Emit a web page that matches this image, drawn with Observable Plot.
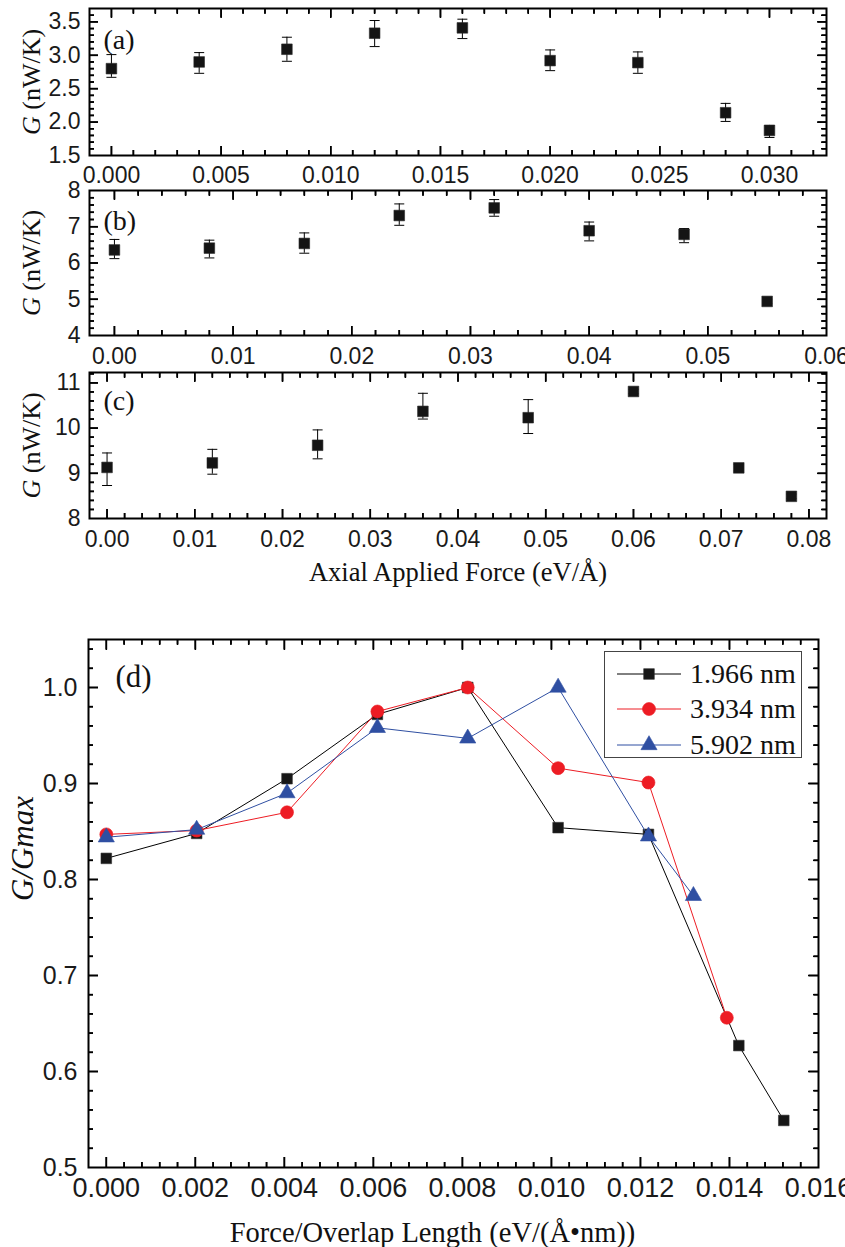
<!DOCTYPE html>
<html>
<head>
<meta charset="utf-8">
<script src="https://cdn.jsdelivr.net/npm/d3@7"></script>
<script src="https://cdn.jsdelivr.net/npm/@observablehq/plot@0.6"></script>
<style>
  html, body { margin: 0; padding: 0; background: #fff; }
  #wrap { position: relative; width: 845px; height: 1247px; overflow: hidden; background: #fff; }
  .panel { position: absolute; left: 0; }
  .panel svg { overflow: visible; background: transparent; }
  #legend { position: absolute; left: 604px; top: 651px; width: 198px; height: 107px;
            border: 1.5px solid #444; box-sizing: border-box; background: #fff; }
  #legend .row { position: absolute; left: 0; height: 30px; width: 196px; }
  #legend .row svg { position: absolute; left: 0; top: 0; }
  #legend .row span { position: absolute; left: 85px; top: 50%; transform: translateY(-50%);
            font-family: 'Liberation Serif', 'Times New Roman', Times, serif; font-size: 28px; color: #111; line-height: 1; white-space: nowrap; }
</style>
</head>
<body>
<div id="wrap"></div>
<script>
// ---------------- Data ----------------
// Panel (a)
const forceA = [0, 0.004, 0.008, 0.012, 0.016, 0.020, 0.024, 0.028, 0.030];
const condA = [2.80, 2.90, 3.09, 3.33, 3.41, 2.92, 2.89, 2.14, 1.875];
const condALow = [2.67, 2.73, 2.91, 3.13, 3.25, 2.77, 2.73, 2.01, 1.77];
const condAHigh = [3.01, 3.04, 3.27, 3.52, 3.54, 3.08, 3.05, 2.28, 1.95];
const xTicksA = [0, 0.005, 0.010, 0.015, 0.020, 0.025, 0.030];
const yTicksA = [1.5, 2.0, 2.5, 3.0, 3.5];

// Panel (b)
const forceB = [0, 0.008, 0.016, 0.024, 0.032, 0.040, 0.048, 0.055];
const condB = [6.36, 6.41, 6.54, 7.31, 7.52, 6.89, 6.79, 4.94];
const condBLow = [6.12, 6.14, 6.27, 7.04, 7.29, 6.61, 6.56, 4.88];
const condBHigh = [6.65, 6.63, 6.83, 7.63, 7.75, 7.13, 6.95, 5.00];
const xTicksB = [0, 0.01, 0.02, 0.03, 0.04, 0.05, 0.06];
const yTicksB = [4, 5, 6, 7, 8];

// Panel (c)
const forceC = [0, 0.012, 0.024, 0.036, 0.048, 0.060, 0.072, 0.078];
const condC = [9.13, 9.23, 9.62, 10.37, 10.23, 10.81, 9.12, 8.49];
const condCLow = [8.73, 8.98, 9.32, 10.20, 9.88, 10.76, 9.05, 8.44];
const condCHigh = [9.45, 9.53, 9.96, 10.77, 10.63, 10.86, 9.20, 8.54];
const xTicksC = [0, 0.01, 0.02, 0.03, 0.04, 0.05, 0.06, 0.07, 0.08];
const yTicksC = [8, 9, 10, 11];

// Panel (d)
const seriesNames = ["1.966 nm", "3.934 nm", "5.902 nm"];
const seriesColors = ["#000000", "#ed1c24", "#2f4fa2"];
const seriesFills = ["#161616", "#ed1c24", "#2f4fa2"];
const seriesSymbols = ["square", "circle", "triangle"];
const xD1 = [0, 0.00203, 0.00406, 0.00609, 0.00812, 0.01015, 0.01218, 0.01421, 0.01522];
const yD1 = [0.822, 0.848, 0.905, 0.972, 1.000, 0.854, 0.847, 0.627, 0.549];
const xD2 = [0, 0.00203, 0.00406, 0.00609, 0.00812, 0.01015, 0.01218, 0.01394];
const yD2 = [0.847, 0.851, 0.870, 0.975, 1.000, 0.916, 0.901, 0.656];
const xD3 = [0, 0.00203, 0.00406, 0.00609, 0.00812, 0.01015, 0.01218, 0.01319];
const yD3 = [0.844, 0.852, 0.890, 0.958, 0.947, 1.000, 0.845, 0.783];
const xTicksD = [0, 0.002, 0.004, 0.006, 0.008, 0.010, 0.012, 0.014, 0.016];
const yTicksD = [0.5, 0.6, 0.7, 0.8, 0.9, 1.0];

// ---------------- Helpers ----------------
const SERIF = "'Liberation Serif','Times New Roman',Times,serif";
const SANS = "'Liberation Sans',Arial,Helvetica,sans-serif";
const NARROW = "'Liberation Sans Narrow','Arial Narrow'," + SANS;
const WIDTH = 845;

function minorTicks(domain, step, majors) {
  const out = [];
  const start = Math.ceil(domain[0] / step - 1e-6);
  const end = Math.floor(domain[1] / step + 1e-6);
  for (let k = start; k <= end; k++) {
    const v = k * step;
    if (v <= domain[0] + step * 0.05 || v >= domain[1] - step * 0.05) continue;
    if (majors.some(m => Math.abs(m - v) < step * 0.05)) continue;
    out.push(v);
  }
  return out;
}

// Frame, tick labels, and inward ticks on all four sides.
// Ticks are rules whose far end is the tick length (px) converted to data units of the scale.
function boxAxes(o, innerW, innerH) {
  const none = () => "";
  const xMinor = minorTicks(o.xDomain, o.xStep, o.xMajor);
  const yMinor = minorTicks(o.yDomain, o.yStep, o.yMajor);
  const yMajorIn = o.yMajor.filter(v => v > o.yDomain[0] + 1e-9 && v < o.yDomain[1] - 1e-9);
  const xMajorIn = o.xMajor.filter(v => v > o.xDomain[0] + 1e-9 && v < o.xDomain[1] - 1e-9);
  const kx = (o.xDomain[1] - o.xDomain[0]) / innerW;
  const ky = (o.yDomain[1] - o.yDomain[0]) / innerH;
  const [x0, x1] = o.xDomain, [y0, y1] = o.yDomain;
  const st = {stroke: "#000", strokeWidth: 1.6};
  const bottom = (vals, len) => Plot.ruleX(vals, {x: d => d, y1: () => y0, y2: () => y0 + len * ky, ...st});
  const top = (vals, len) => Plot.ruleX(vals, {x: d => d, y1: () => y1, y2: () => y1 - len * ky, ...st});
  const left = (vals, len) => Plot.ruleY(vals, {y: d => d, x1: () => x0, x2: () => x0 + len * kx, ...st});
  const right = (vals, len) => Plot.ruleY(vals, {y: d => d, x1: () => x1, x2: () => x1 - len * kx, ...st});
  const tk = (axis, vals, anchor, len) =>
    axis(vals, {anchor, tickSize: -len, tickFormat: none, label: null, stroke: "#000", strokeWidth: 1.6});
  return [
    Plot.frame({stroke: "#000", strokeWidth: 2, fill: "none"}),
    Plot.axisX(o.xMajor, {label: null, anchor: "bottom", tickSize: 0, tickPadding: o.xGap, tickFormat: o.xFmt,
      fontFamily: NARROW, fontSize: o.xSize, fill: "#1a1a1a", stroke: "none"}),
    Plot.axisY(o.yMajor, {label: null, anchor: "left", tickSize: 0, tickPadding: o.yGap, tickFormat: o.yFmt,
      fontFamily: SANS, fontSize: o.ySize, fill: "#1a1a1a", stroke: "none"}),
    tk(Plot.axisX, xMajorIn, "bottom", o.major), tk(Plot.axisX, xMinor, "bottom", o.minor),
    tk(Plot.axisX, xMajorIn, "top", o.major), tk(Plot.axisX, xMinor, "top", o.minor),
    tk(Plot.axisY, yMajorIn, "left", o.major), tk(Plot.axisY, yMinor, "left", o.minor),
    tk(Plot.axisY, yMajorIn, "right", o.major), tk(Plot.axisY, yMinor, "right", o.minor),
    bottom(xMajorIn, o.major), bottom(xMinor, o.minor),
    top(xMajorIn, o.major), top(xMinor, o.minor),
    left(yMajorIn, o.major), left(yMinor, o.minor),
    right(yMajorIn, o.major), right(yMinor, o.minor)
  ];
}

const capSymbol = {draw(ctx) { ctx.moveTo(-5, 0); ctx.lineTo(5, 0); }};

function italicizeG(svg, label) {
  svg.querySelectorAll("text").forEach(t => {
    if (t.textContent === label) {
      while (t.firstChild) t.removeChild(t.firstChild);
      const ns = "http://www.w3.org/2000/svg";
      const a = document.createElementNS(ns, "tspan");
      a.setAttribute("font-style", "italic");
      a.textContent = "G";
      const b = document.createElementNS(ns, "tspan");
      b.textContent = label.slice(1);
      t.appendChild(a); t.appendChild(b);
    }
  });
}

function errorPanel(cfg) {
  const ml = 89, mr = 19;
  const innerW = WIDTH - ml - mr, innerH = cfg.height - cfg.mt - cfg.mb;
  const rows = cfg.force.map((f, i) => ({f, g: cfg.cond[i], lo: cfg.low[i], hi: cfg.high[i]}));
  const marks = [
    ...boxAxes(cfg.axes, innerW, innerH),
    Plot.ruleX(rows, {x: "f", y1: "lo", y2: "hi", stroke: "#000", strokeWidth: 1}),
    Plot.dot(rows, {x: "f", y: "hi", symbol: capSymbol, fill: "none", stroke: "#000", strokeWidth: 1}),
    Plot.dot(rows, {x: "f", y: "lo", symbol: capSymbol, fill: "none", stroke: "#000", strokeWidth: 1}),
    Plot.dot(rows, {x: "f", y: "g", symbol: "square", r: 6, fill: "#141414", stroke: "#2a2a2a", strokeWidth: 0.6}),
    Plot.text([cfg.tag], {text: d => d, frameAnchor: "top-left", textAnchor: "start", lineAnchor: "middle",
      dx: 14, dy: cfg.tagDy, fontFamily: SERIF, fontSize: 28, fill: "#111"}),
    Plot.text(["G (nW/K)"], {text: d => d, frameAnchor: "left", rotate: -90, textAnchor: "middle",
      lineAnchor: "middle", dx: -58, fontFamily: SERIF, fontSize: 26, fill: "#111"})
  ];
  if (cfg.xTitle) {
    marks.push(Plot.text([cfg.xTitle], {text: d => d, frameAnchor: "bottom", lineAnchor: "middle",
      dy: 54, fontFamily: SERIF, fontSize: 26.5, fill: "#111"}));
  }
  const svg = Plot.plot({
    width: WIDTH, height: cfg.height,
    marginLeft: ml, marginRight: mr, marginTop: cfg.mt, marginBottom: cfg.mb,
    x: {domain: cfg.axes.xDomain, axis: null},
    y: {domain: cfg.axes.yDomain, axis: null},
    marks
  });
  italicizeG(svg, "G (nW/K)");
  const div = document.createElement("div");
  div.className = "panel";
  div.style.top = cfg.top + "px";
  div.appendChild(svg);
  document.getElementById("wrap").appendChild(div);
}

// ---------------- Panels (a)-(c) ----------------
errorPanel({
  tag: "(a)", tagDy: 32, top: 0, height: 190, mt: 8, mb: 35,
  force: forceA, cond: condA, low: condALow, high: condAHigh,
  axes: {xDomain: [-0.001, 0.0326], yDomain: [1.5, 3.7], xMajor: xTicksA, yMajor: yTicksA,
    xStep: 0.001, yStep: 0.1, major: 9, minor: 5, xGap: 11, yGap: 9,
    xFmt: d3.format(".3f"), yFmt: d3.format(".1f"), xSize: 23, ySize: 23}
});
errorPanel({
  tag: "(b)", tagDy: 31, top: 178, height: 192, mt: 12, mb: 35,
  force: forceB, cond: condB, low: condBLow, high: condBHigh,
  axes: {xDomain: [-0.0021, 0.06], yDomain: [4, 8], xMajor: xTicksB, yMajor: yTicksB,
    xStep: 0.002, yStep: 0.2, major: 9, minor: 5, xGap: 12, yGap: 9,
    xFmt: d3.format(".2f"), yFmt: d3.format("d"), xSize: 23, ySize: 23}
});
errorPanel({
  tag: "(c)", tagDy: 29, top: 358, height: 235, mt: 14, mb: 75,
  force: forceC, cond: condC, low: condCLow, high: condCHigh,
  xTitle: "Axial Applied Force (eV/Å)",
  axes: {xDomain: [-0.002, 0.082], yDomain: [8, 11.23], xMajor: xTicksC, yMajor: yTicksC,
    xStep: 0.002, yStep: 0.2, major: 9, minor: 5, xGap: 12, yGap: 9,
    xFmt: d3.format(".2f"), yFmt: d3.format("d"), xSize: 23, ySize: 23}
});

// ---------------- Panel (d) ----------------
const dSeries = [[xD1, yD1], [xD2, yD2], [xD3, yD3]].map(([xs, ys], s) =>
  xs.map((x, i) => ({x, y: ys[i], s: seriesNames[s]})));
const axesD = {xDomain: [-0.0004, 0.016], yDomain: [0.5, 1.05], xMajor: xTicksD, yMajor: yTicksD,
  xStep: 0.0004, yStep: 0.02, major: 10, minor: 5, xGap: 10, yGap: 11,
  xFmt: d3.format(".3f"), yFmt: d3.format(".1f"), xSize: 27, ySize: 25};
const mlD = 88, mrD = 27, mtD = 19, mbD = 80, hD = 627;
const marksD = [...boxAxes(axesD, WIDTH - mlD - mrD, hD - mtD - mbD)];
const symR = [6, 6.5, 6];
dSeries.forEach((rows, s) => {
  marksD.push(Plot.line(rows, {x: "x", y: "y", stroke: seriesColors[s], strokeWidth: 1}));
  marksD.push(Plot.dot(rows, {x: "x", y: "y", symbol: seriesSymbols[s], r: symR[s],
    fill: seriesFills[s], stroke: s === 0 ? "#333" : seriesFills[s], strokeWidth: 0.6}));
});
marksD.push(Plot.text(["(d)"], {text: d => d, frameAnchor: "top-left", textAnchor: "start", lineAnchor: "middle",
  dx: 27, dy: 38, fontFamily: SERIF, fontSize: 31, fill: "#111"}));
marksD.push(Plot.text(["G/Gmax"], {text: d => d, frameAnchor: "left", rotate: -90, textAnchor: "middle",
  lineAnchor: "middle", dx: -65, dy: -55, fontFamily: SERIF, fontStyle: "italic", fontSize: 31, fill: "#111"}));
marksD.push(Plot.text(["Force/Overlap Length (eV/(Å•nm))"], {text: d => d, frameAnchor: "bottom", lineAnchor: "middle",
  dx: -21, dy: 65, fontFamily: SERIF, fontSize: 28.5, fill: "#111"}));

const svgD = Plot.plot({
  width: WIDTH, height: hD,
  marginLeft: mlD, marginRight: mrD, marginTop: mtD, marginBottom: mbD,
  x: {domain: axesD.xDomain, axis: null},
  y: {domain: axesD.yDomain, axis: null},
  marks: marksD
});
const divD = document.createElement("div");
divD.className = "panel";
divD.style.top = "620px";
divD.appendChild(svgD);
document.getElementById("wrap").appendChild(divD);

// ---------------- Legend for (d) ----------------
const legend = document.createElement("div");
legend.id = "legend";
const rowCenters = [22, 57, 93];
seriesNames.forEach((name, s) => {
  const row = document.createElement("div");
  row.className = "row";
  row.style.top = (rowCenters[s] - 15) + "px";
  const ns = "http://www.w3.org/2000/svg";
  const sw = document.createElementNS(ns, "svg");
  sw.setAttribute("width", 84); sw.setAttribute("height", 30);
  const ln = document.createElementNS(ns, "line");
  ln.setAttribute("x1", 12); ln.setAttribute("x2", 76); ln.setAttribute("y1", 15); ln.setAttribute("y2", 15);
  ln.setAttribute("stroke", seriesColors[s]); ln.setAttribute("stroke-width", 1);
  sw.appendChild(ln);
  const symType = [d3.symbolSquare, d3.symbolCircle, d3.symbolTriangle][s];
  const p = document.createElementNS(ns, "path");
  p.setAttribute("d", d3.symbol(symType, symR[s] * symR[s] * Math.PI)());
  p.setAttribute("transform", "translate(44,15)");
  p.setAttribute("fill", seriesFills[s]);
  p.setAttribute("stroke", s === 0 ? "#333" : seriesFills[s]);
  p.setAttribute("stroke-width", 0.6);
  sw.appendChild(p);
  row.appendChild(sw);
  const sp = document.createElement("span");
  sp.textContent = name;
  row.appendChild(sp);
  legend.appendChild(row);
});
document.getElementById("wrap").appendChild(legend);
</script>
</body>
</html>
